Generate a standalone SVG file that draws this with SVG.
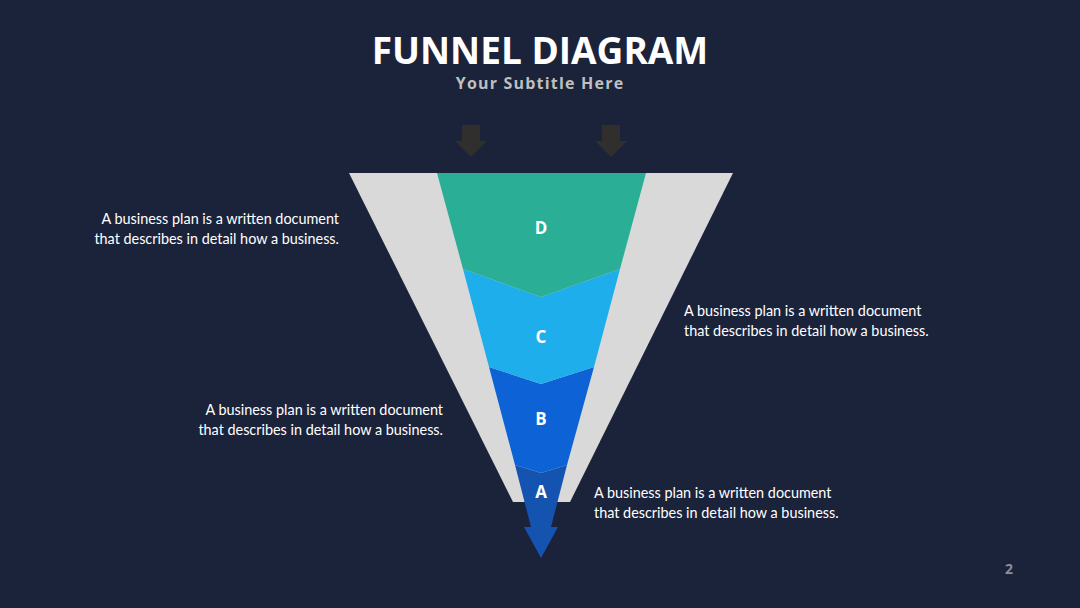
<svg xmlns="http://www.w3.org/2000/svg" width="1080" height="608" viewBox="0 0 1080 608">
<style>
.title{font-family:"Open Sans","Liberation Sans",sans-serif;font-weight:700;fill:#FFFFFF;text-anchor:middle}
.sub{font-family:"Open Sans","Liberation Sans",sans-serif;font-weight:700;fill:#BFBFBF;text-anchor:middle;letter-spacing:1.2px}
.body{font-family:Lato,"Liberation Sans",sans-serif;font-size:14.4px;fill:#FFFFFF}
.lbl{font-family:"Open Sans","Liberation Sans",sans-serif;font-weight:700;font-size:17px;fill:#FFFFFF;text-anchor:middle}
.inarrow{fill:#302F2D}
</style>
<rect width="1080" height="608" fill="#1B233B"/>
<text class="title" x="540" y="64" font-size="37">FUNNEL DIAGRAM</text>
<text class="sub" x="540" y="88.5" font-size="16">Your Subtitle Here</text>
<g id="connectors">
<polygon class="inarrow" points="462,125 480,125 480,141 487,141 471,157 455,141 462,141"/>
<polygon class="inarrow" points="602,125 620,125 620,141 627,141 611,157 595,141 602,141"/>
</g>
<g id="funnel-frame">
<polygon points="349,173 733,173 570,502 513,502" fill="#D9D9D9"/>
</g>
<g id="node-a">
<polygon points="515,465 541,473 567,465 551,527 558,527 541,558 524,527 531,527" fill="#1553B0"/>
<text class="lbl" x="541" y="498">A</text>
</g>
<g id="node-b">
<polygon points="489,367 541,384 594,367 567,465 541,473 515,465" fill="#0D63D5"/>
<text class="lbl" x="541" y="425">B</text>
</g>
<g id="node-c">
<polygon points="463,269 541,297 620,269 594,367 541,384 489,367" fill="#1EAEEB"/>
<text class="lbl" x="541" y="343">C</text>
</g>
<g id="node-d">
<polygon points="437,173 646,173 620,269 541,297 463,269" fill="#2AAE96"/>
<text class="lbl" x="541" y="234">D</text>
</g>
<g id="text-1">
<text class="body" text-anchor="end" x="339" y="224">A business plan is a written document</text>
<text class="body" text-anchor="end" x="339" y="244">that describes in detail how a business.</text>
</g>
<g id="text-2">
<text class="body" x="684" y="316">A business plan is a written document</text>
<text class="body" x="684" y="336">that describes in detail how a business.</text>
</g>
<g id="text-3">
<text class="body" text-anchor="end" x="443" y="415">A business plan is a written document</text>
<text class="body" text-anchor="end" x="443" y="435">that describes in detail how a business.</text>
</g>
<g id="text-4">
<text class="body" x="594" y="498">A business plan is a written document</text>
<text class="body" x="594" y="518">that describes in detail how a business.</text>
</g>
<text x="1009" y="574" font-family="'Open Sans','Liberation Sans',sans-serif" font-weight="700" font-size="14" fill="#8A8F9C" text-anchor="middle">2</text>
</svg>
